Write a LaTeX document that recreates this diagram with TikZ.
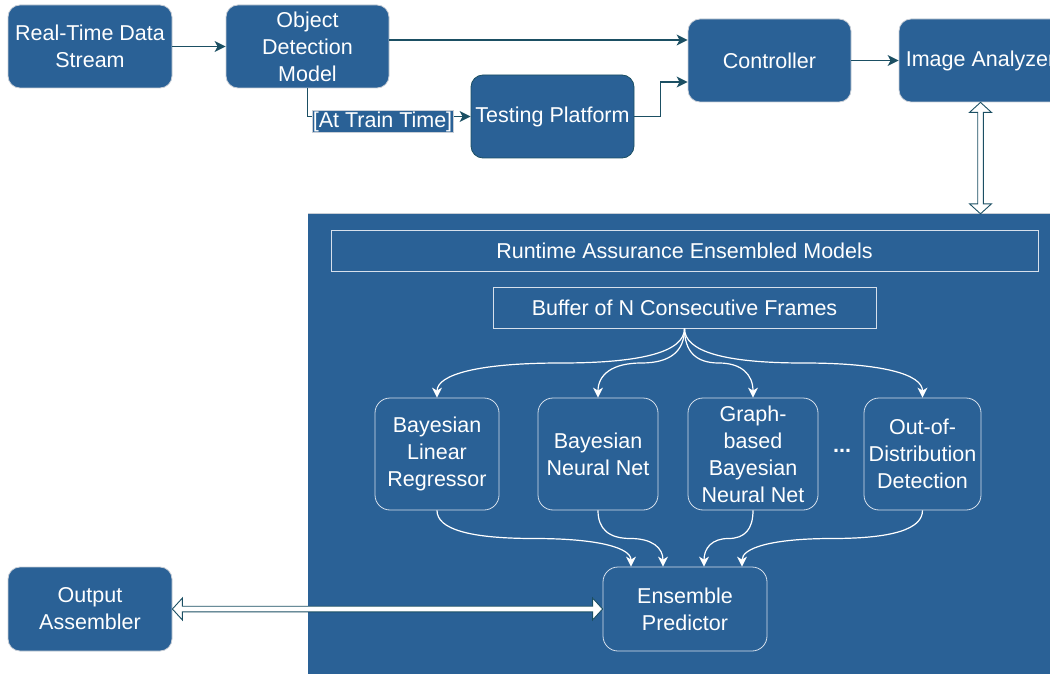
\documentclass[tikz,border=0pt]{standalone}
\usepackage{fontspec}
\setmainfont{Liberation Sans}
\usetikzlibrary{arrows.meta,calc}

\definecolor{boxblue}{RGB}{42,97,150}
\definecolor{linkc}{RGB}{27,79,99}
\definecolor{rimc}{RGB}{200,206,214}
\definecolor{innerrim}{RGB}{214,224,236}

% Hollow two-headed block arrow between two points (tip to tip)
\newcommand{\hollowdbl}[2]{%
  \draw[dblarrow] (#1)
    -- ($(#1)!10pt!(#2)!11pt!90:(#2)$)
    -- ($(#1)!10pt!(#2)!2.8pt!90:(#2)$)
    -- ($(#2)!10pt!(#1)!2.8pt!-90:(#1)$)
    -- ($(#2)!10pt!(#1)!11pt!-90:(#1)$)
    -- (#2)
    -- ($(#2)!10pt!(#1)!11pt!90:(#1)$)
    -- ($(#2)!10pt!(#1)!2.8pt!90:(#1)$)
    -- ($(#1)!10pt!(#2)!2.8pt!-90:(#2)$)
    -- ($(#1)!10pt!(#2)!11pt!-90:(#2)$)
    -- cycle;}

% Smooth S-shaped connector: vertical out of #1, vertical into #2
\newcommand{\sbend}[2]{%
  \path ($(#1)!.5!(#2)$) coordinate (m);
  \draw[wlink] (#1)
    .. controls ($(#1)!.667!(m -| #1)$) and ($(m)!.667!(m -| #1)$) .. (m)
    .. controls ($(m)!.667!(m -| #2)$) and ($(#2)!.667!(m -| #2)$) .. (#2);}

\begin{document}
\begin{tikzpicture}[x=1pt,y=-1pt,
  txt/.style={font=\fontsize{21.5}{27}\selectfont, text=white, align=center},
  topbox/.style={txt, rectangle, rounded corners=12pt, fill=boxblue, draw=rimc,
    line width=0.8pt, minimum width=163pt, minimum height=83pt, inner sep=0pt},
  tpbox/.style={topbox, draw=linkc},
  frame/.style={txt, rectangle, draw=innerrim, line width=0.8pt, inner sep=0pt},
  model/.style={txt, rectangle, rounded corners=15pt, draw=innerrim, line width=0.8pt,
    minimum height=112pt, inner sep=0pt},
  link/.style={draw=linkc, line width=1.3pt, -{Stealth[length=11pt,width=11pt,inset=3pt]}},
  wlink/.style={draw=white, line width=1.2pt, -{Stealth[length=10pt,width=10pt,inset=3pt]}},
  dblarrow/.style={draw=linkc, fill=white, line width=0.9pt, line join=miter},
  lbl/.style={txt, fill=boxblue, draw=rimc, line width=0.6pt, inner sep=1pt}
]
\useasboundingbox (0,0) rectangle (1050,674);
\clip (0,0) rectangle (1050,674);

% ---- ensemble panel (background) ----
\node[rectangle, fill=boxblue, minimum width=752pt, minimum height=466pt, inner sep=0pt]
  (panel) at (684,447) {};
\draw[rimc, line width=0.8pt] (panel.north west) -- (panel.north east);

% ---- top pipeline ----
\node[topbox, minimum width=164pt] (rtds) at (90,46.5) {Real-Time Data\\Stream};
\node[topbox] (odm) at (307.5,46.5) {Object\\Detection\\Model};
\node[tpbox] (tp) at (552.5,116.5) {Testing Platform};
\node[topbox] (ctrl) at (769.5,60.5) {Controller};
\node[topbox] (ia) at (980.5,60.5) {Image Analyzer};

\draw[link] (rtds) -- (odm);
\draw[link] ($(odm.east)+(0,-6.5)$) -- ($(ctrl.west)+(0,-20.5)$);
\draw[link] (odm.south) |- (tp.west)
  node[lbl, pos=0.73, yshift=-5pt] (train) {[At Train Time]};
\draw[link] (tp.east) -- ++(26,0) |- ($(ctrl.west)+(0,21.5)$);
\draw[link] (ctrl) -- (ia);

\coordinate (ptop) at (ia.south |- panel.north);
\hollowdbl{ia.south}{ptop}

% ---- ensemble contents ----
\node[frame, minimum width=707pt, minimum height=41pt] (ram) at (684.5,250.5)
  {Runtime Assurance Ensembled Models};
\node[frame, minimum width=383pt, minimum height=41pt] (buf) at (684.5,307.5)
  {Buffer of N Consecutive Frames};

\node[model, minimum width=124pt] (blr) at (437,454) {Bayesian\\Linear\\Regressor};
\node[model, minimum width=120pt] (bnn) at (598,454) {Bayesian\\Neural Net};
\node[model, minimum width=130pt] (gb) at (753,454) {Graph-\\based\\Bayesian\\Neural Net};
\node[model, minimum width=117pt] (ood) at (922.5,454) {Out-of-\\Distribution\\Detection};
\node[txt, font=\fontsize{21.5}{27}\selectfont\bfseries] (dots) at (842,451) {...};

\node[model, minimum width=164pt, minimum height=84pt] (ep) at (685,609)
  {Ensemble\\Predictor};

\foreach \b in {blr,bnn,gb,ood} {
  \sbend{buf.south}{\b.north}
}
\foreach \b/\dx in {blr/-54,bnn/-22,gb/19,ood/57} {
  \coordinate (t) at ($(ep.north)+(\dx,0)$);
  \sbend{\b.south}{t}
}

% ---- output ----
\node[topbox, minimum width=164pt, minimum height=84pt] (oa) at (90,609)
  {Output\\Assembler};
\hollowdbl{oa.east}{ep.west}

\end{tikzpicture}
\end{document}
